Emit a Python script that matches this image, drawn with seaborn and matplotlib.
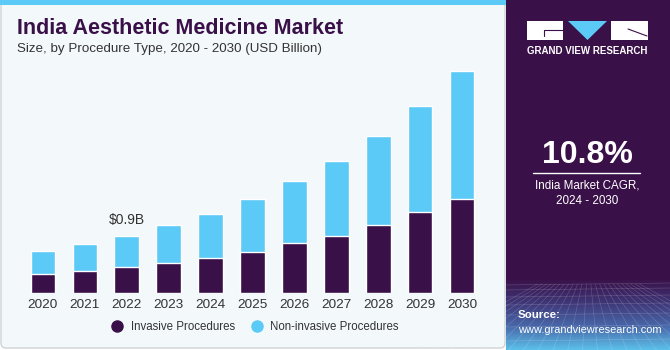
import numpy as np
import pandas as pd
import matplotlib; matplotlib.use('Agg')
import matplotlib.pyplot as plt
from matplotlib.patches import Rectangle, FancyBboxPatch, Polygon
from matplotlib.lines import Line2D
from matplotlib.colors import LinearSegmentedColormap
import seaborn as sns

# Data (USD Billion)
years       = ['2020', '2021', '2022', '2023', '2024', '2025',
               '2026', '2027', '2028', '2029', '2030']
invasive    = [0.30, 0.35, 0.41, 0.48, 0.55, 0.65, 0.78, 0.90, 1.07, 1.27, 1.48]
noninvasive = [0.36, 0.42, 0.49, 0.58, 0.69, 0.83, 0.97, 1.16, 1.39, 1.65, 2.00]
series_names = ['Invasive Procedures', 'Non-invasive Procedures']
label_year  = '2022'
label_text  = '$0.9B'

DARK  = '#3a1048'
LIGHT = '#5ccaf6'
PANEL = '#3a1048'
BG    = '#f3f8fb'

W, H = 670, 350

def fx(x): return x / W
def fy(y): return 1 - y / H

sns.set_theme(style='white')
plt.rcParams['font.family'] = ['Liberation Sans', 'DejaVu Sans']

df = pd.DataFrame({'year': years, 'invasive': invasive, 'noninvasive': noninvasive})
df['total'] = df['invasive'] + df['noninvasive']

fig = plt.figure(figsize=(6.7, 3.5), dpi=100)
fig.patch.set_facecolor('white')

# background: left card + right panel (drawn underneath every axes)
bgax = fig.add_axes([0, 0, 1, 1], zorder=-10)
bgax.set_xlim(0, W); bgax.set_ylim(H, 0); bgax.axis('off')
bgax.add_patch(FancyBboxPatch((1, 1), 504, 347, boxstyle='round,pad=0,rounding_size=5',
                              facecolor=BG, edgecolor='#cfd3d6', lw=1.0))
bgax.add_patch(Rectangle((0, 0), 506, 5, facecolor=LIGHT, edgecolor='none'))
bgax.add_patch(Rectangle((506, 0), 164, 350, facecolor=PANEL, edgecolor='none'))
grad = LinearSegmentedColormap.from_list('g', [PANEL, '#3f3676', '#4866a8', '#5bbfe9'])
bgax.imshow(np.linspace(0, 1, 100).reshape(-1, 1), aspect='auto', cmap=grad,
            extent=[506, 670, 350, 278], origin='upper', zorder=1)
# faint perspective grid
for xb in np.linspace(420, 760, 24):
    bgax.plot([588 + (xb - 588) * 0.3, xb], [284, 350], color='white', lw=0.4,
              alpha=0.22, zorder=2)
for yv in [285, 290, 297, 305, 315, 327, 341]:
    bgax.plot([506, 670], [yv, yv - 2], color='white', lw=0.4, alpha=0.22, zorder=2)
bgax.set_xlim(0, W); bgax.set_ylim(H, 0)

# logo
bgax.add_patch(Rectangle((527, 21), 36, 19, facecolor='white', edgecolor='none', zorder=3))
bgax.add_patch(Rectangle((611, 21), 37, 19, facecolor='white', edgecolor='none', zorder=3))
bgax.add_patch(Polygon([(568, 21), (607, 21), (587.5, 40)], closed=True,
                       facecolor=LIGHT, edgecolor='none', zorder=3))
bgax.plot([544, 563], [29.5, 29.5], color=PANEL, lw=0.8, zorder=4)
bgax.plot([544, 544], [29.5, 36], color=PANEL, lw=0.8, zorder=4)
bgax.plot([628, 647], [29, 36], color=PANEL, lw=0.8, zorder=4)
bgax.text(587.5, 50.5, 'GRAND VIEW RESEARCH', color='white', fontsize=7,
          fontweight='bold', ha='center', va='center')

bgax.text(587, 155, '10.8%', color='white', fontsize=23, fontweight='bold',
          ha='center', va='center')
bgax.plot([533, 640], [173.3, 173.3], color='white', lw=1.0)
bgax.text(587, 186, 'India Market CAGR,', color='white', fontsize=8.4,
          ha='center', va='center')
bgax.text(587, 201, '2024 - 2030', color='white', fontsize=8.4,
          ha='center', va='center')
bgax.text(518, 315, 'Source:', color='white', fontsize=8.2, fontweight='bold',
          ha='left', va='center', zorder=5)
bgax.text(518, 330, 'www.grandviewresearch.com', color='white', fontsize=7.9,
          ha='left', va='center', zorder=5)

# titles
bgax.text(17, 28.5, 'India Aesthetic Medicine Market', color=DARK, fontsize=15.5,
          fontweight='bold', ha='left', va='center')
bgax.text(17, 49, 'Size, by Procedure Type, 2020 - 2030 (USD Billion)', color='#333333',
          fontsize=9.6, ha='left', va='center')

# chart
ax = fig.add_axes([fx(21.8), fy(293.3), fx(461.4), 236.8 / H])
ax.set_facecolor('none')
sns.barplot(data=df, x='year', y='total', color=LIGHT, width=0.58, saturation=1,
            ax=ax, zorder=2)
sns.barplot(data=df, x='year', y='invasive', color=DARK, width=0.58, saturation=1,
            ax=ax, zorder=3)
ax.set_xlim(-0.5, len(years) - 0.5)
ax.set_ylim(0, 3.7)
ax.set_xlabel(''); ax.set_ylabel('')
ax.set_yticks([])
ax.tick_params(axis='x', length=0, pad=4, labelsize=9.7, labelcolor='#333333')
for s in ax.spines.values():
    s.set_visible(False)

i = years.index(label_year)
ax.annotate(label_text, (i, df['total'][i]), xytext=(0, 11.5), textcoords='offset points',
            ha='center', va='center', fontsize=10, color='#333333')

handles = [Line2D([], [], marker='o', ls='none', color=c, markersize=8)
           for c in (DARK, LIGHT)]
fig.legend(handles, series_names, loc='center', bbox_to_anchor=(fx(252), fy(327.5)),
           ncol=2, frameon=False, fontsize=8.3, handletextpad=0.15, columnspacing=0.9,
           labelcolor='#333333')

fig.savefig('out.png', dpi=100)
